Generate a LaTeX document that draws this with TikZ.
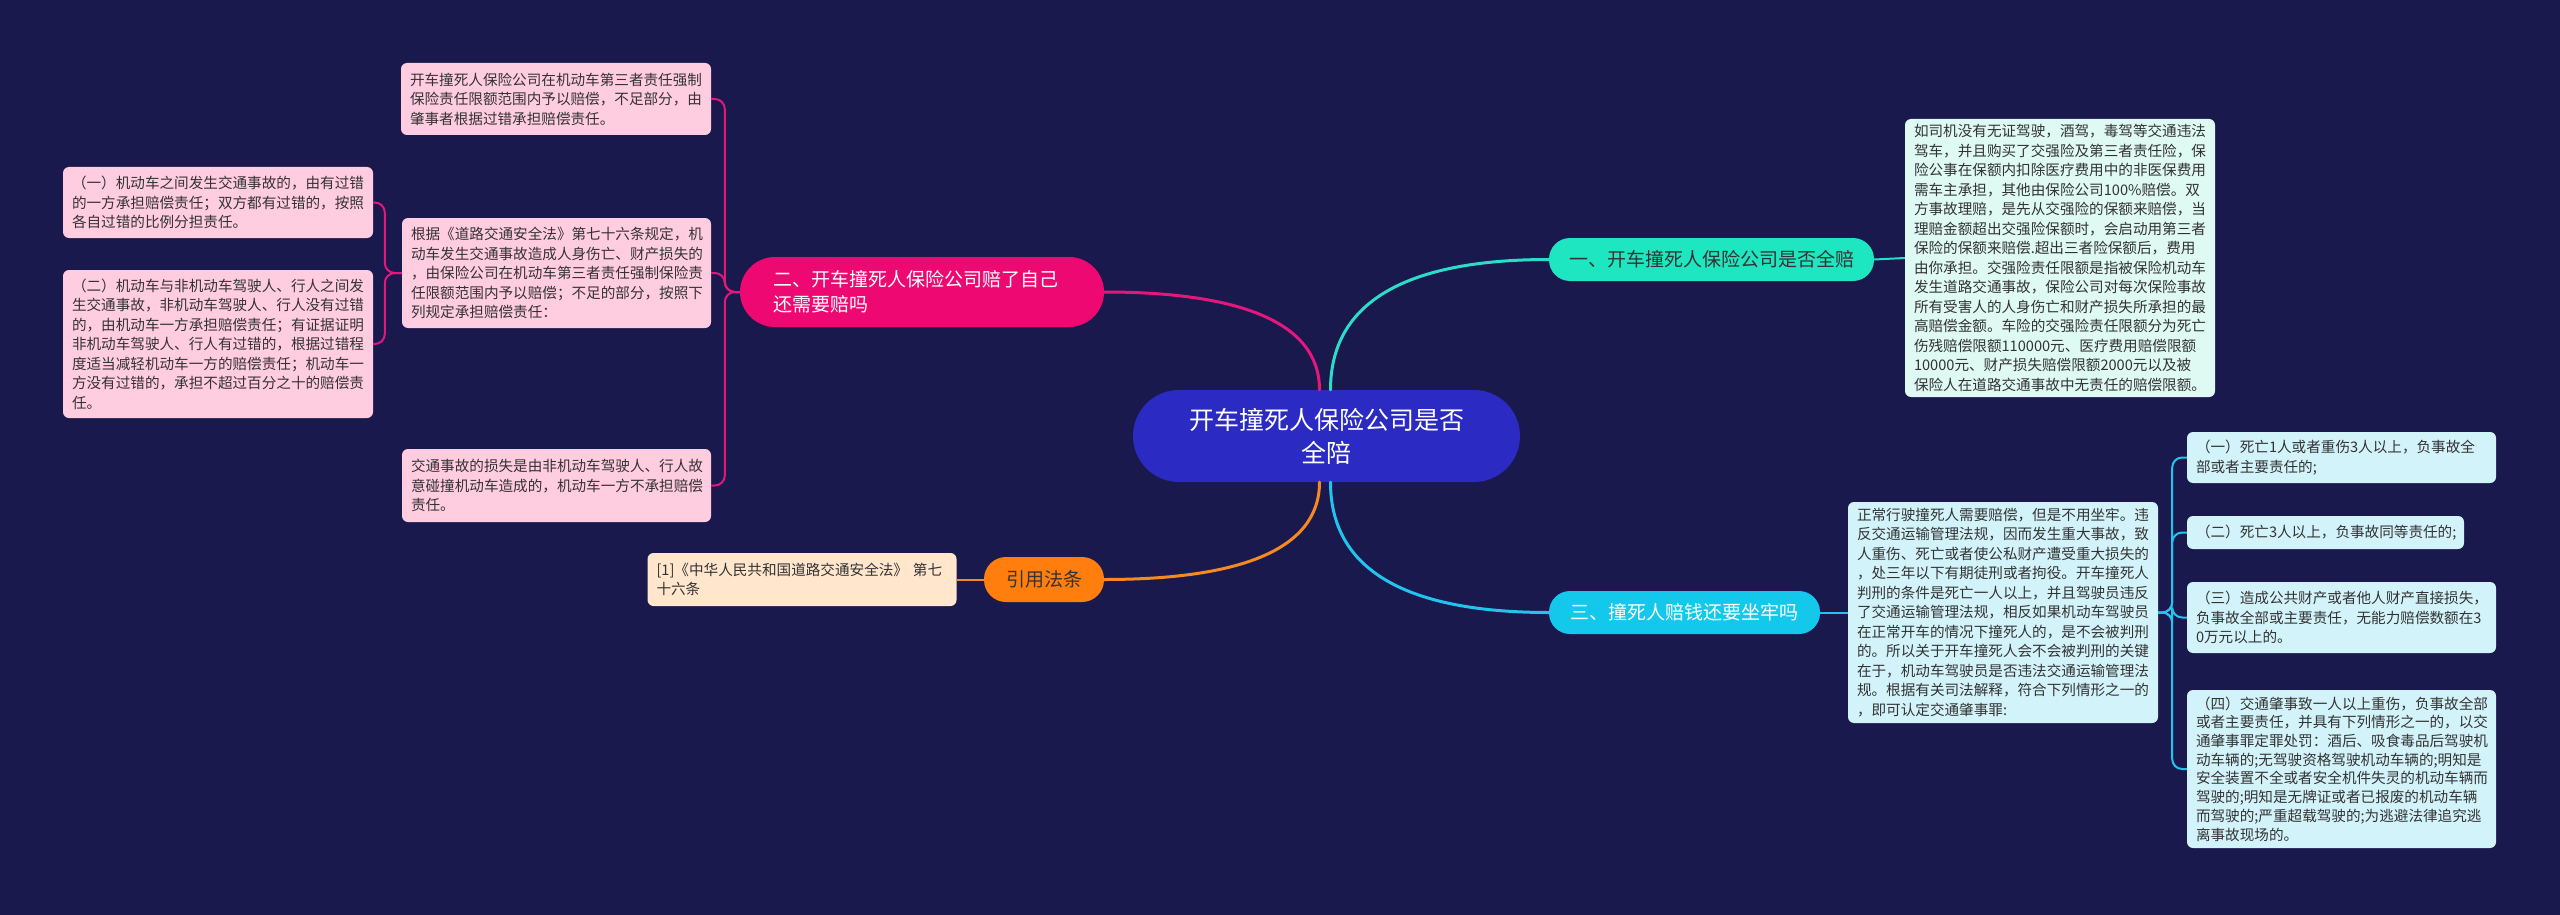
\documentclass[tikz,border=0pt]{standalone}
\usepackage{fontspec}
\setmainfont{Noto Sans CJK SC}
\usetikzlibrary{calc}
\definecolor{bg}{HTML}{19194D}
\definecolor{centerc}{HTML}{2B2BC4}
\definecolor{tealc}{HTML}{1EE6C0}
\definecolor{cyanc}{HTML}{14C8EC}
\definecolor{magc}{HTML}{EE0871}
\definecolor{orangec}{HTML}{FF7E0E}
\definecolor{pinkbox}{HTML}{FFCCE0}
\definecolor{mintbox}{HTML}{DFF9F3}
\definecolor{cyanbox}{HTML}{D3F3FA}
\definecolor{citebox}{HTML}{FFE6CC}
\definecolor{tealline}{HTML}{2CDCC8}
\definecolor{cyanline}{HTML}{22C4EE}
\definecolor{pinkline}{HTML}{E3177C}
\definecolor{orangeline}{HTML}{F58A22}
\definecolor{txt}{HTML}{333333}
\begin{document}
\begin{tikzpicture}[x=1pt,y=-1pt,
  box/.style={rounded corners=6pt, inner xsep=9pt, inner ysep=0pt, align=left,
    anchor=center, text=txt, font=\fontsize{14.6}{19.5}\selectfont},
  pill/.style={inner sep=0pt, anchor=center, align=center,
    font=\fontsize{19}{25}\selectfont},
  mainline/.style={line width=3pt, line cap=round},
  thinline/.style={line width=2pt, rounded corners=10pt}]
\fill[bg] (0,0) rectangle (2560,915);
\useasboundingbox (0,0) rectangle (2560,915);

% center
\node[fill=centerc, rounded corners=46pt, minimum width=387pt, minimum height=92pt,
  inner sep=0pt, align=center, text=white, font=\fontsize{25}{33}\selectfont]
  (C) at (1326.5,436) {开车撞死人保险公司是否\\全陪};

% branch 1
\node[pill, fill=tealc, rounded corners=21pt, minimum width=325pt, minimum height=43pt,
  text=txt] (b1) at (1711.5,259.5) {一、开车撞死人保险公司是否全赔};
\node[box, fill=mintbox, text width=292pt, minimum height=278pt] (b1box) at (2060,258)
 {如司机没有无证驾驶，酒驾，毒驾等交通违法\\驾车，并且购买了交强险及第三者责任险，保\\险公事在保额内扣除医疗费用中的非医保费用\\需车主承担，其他由保险公司100\%赔偿。双\\方事故理赔，是先从交强险的保额来赔偿，当\\理赔金额超出交强险保额时，会启动用第三者\\保险的保额来赔偿.超出三者险保额后，费用\\由你承担。交强险责任限额是指被保险机动车\\发生道路交通事故，保险公司对每次保险事故\\所有受害人的人身伤亡和财产损失所承担的最\\高赔偿金额。车险的交强险责任限额分为死亡\\伤残赔偿限额110000元、医疗费用赔偿限额\\10000元、财产损失赔偿限额2000元以及被\\保险人在道路交通事故中无责任的赔偿限额。};

% branch 3
\node[pill, fill=cyanc, rounded corners=21pt, minimum width=271pt, minimum height=43pt,
  text=white] (b3) at (1684.5,612.5) {三、撞死人赔钱还要坐牢吗};
\node[box, fill=cyanbox, text width=292pt, minimum height=221pt] (b3box) at (2003,612.5)
 {正常行驶撞死人需要赔偿，但是不用坐牢。违\\反交通运输管理法规，因而发生重大事故，致\\人重伤、死亡或者使公私财产遭受重大损失的\\，处三年以下有期徒刑或者拘役。开车撞死人\\判刑的条件是死亡一人以上，并且驾驶员违反\\了交通运输管理法规，相反如果机动车驾驶员\\在正常开车的情况下撞死人的，是不会被判刑\\的。所以关于开车撞死人会不会被判刑的关键\\在于，机动车驾驶员是否违法交通运输管理法\\规。根据有关司法解释，符合下列情形之一的\\，即可认定交通肇事罪:};
\node[box, fill=cyanbox, text width=291pt, minimum height=51pt] (s1) at (2341.5,457.5)
 {（一）死亡1人或者重伤3人以上，负事故全\\部或者主要责任的;};
\node[box, fill=cyanbox, text width=259pt, minimum height=33pt] (s2) at (2325.5,532.5)
 {（二）死亡3人以上，负事故同等责任的;};
\node[box, fill=cyanbox, text width=291pt, minimum height=71pt] (s3) at (2341.5,617.5)
 {（三）造成公共财产或者他人财产直接损失，\\负事故全部或主要责任，无能力赔偿数额在3\\0万元以上的。};
\node[box, fill=cyanbox, text width=291pt, minimum height=158pt,
  font=\fontsize{14.6}{18.7}\selectfont] (s4) at (2341.5,769)
 {（四）交通肇事致一人以上重伤，负事故全部\\或者主要责任，并具有下列情形之一的，以交\\通肇事罪定罪处罚：酒后、吸食毒品后驾驶机\\动车辆的;无驾驶资格驾驶机动车辆的;明知是\\安全装置不全或者安全机件失灵的机动车辆而\\驾驶的;明知是无牌证或者已报废的机动车辆\\而驾驶的;严重超载驾驶的;为逃避法律追究逃\\离事故现场的。};

% branch 2
\node[fill=magc, rounded corners=35pt, minimum width=364pt, minimum height=70pt,
  inner xsep=33pt, inner ysep=0pt, align=left, text width=298pt, text=white,
  font=\fontsize{19}{25}\selectfont] (b2) at (922,292)
 {二、开车撞死人保险公司赔了自己\\还需要赔吗};
\node[box, fill=pinkbox, text width=292pt, minimum height=72pt] (A) at (556,99)
 {开车撞死人保险公司在机动车第三者责任强制\\保险责任限额范围内予以赔偿，不足部分，由\\肇事者根据过错承担赔偿责任。};
\node[box, fill=pinkbox, text width=291pt, minimum height=110pt] (B) at (556.5,273)
 {根据《道路交通安全法》第七十六条规定，机\\动车发生交通事故造成人身伤亡、财产损失的\\，由保险公司在机动车第三者责任强制保险责\\任限额范围内予以赔偿；不足的部分，按照下\\列规定承担赔偿责任：};
\node[box, fill=pinkbox, text width=292pt, minimum height=71pt] (C1) at (218,202.5)
 {（一）机动车之间发生交通事故的，由有过错\\的一方承担赔偿责任；双方都有过错的，按照\\各自过错的比例分担责任。};
\node[box, fill=pinkbox, text width=292pt, minimum height=148pt] (C2) at (218,344)
 {（二）机动车与非机动车驾驶人、行人之间发\\生交通事故，非机动车驾驶人、行人没有过错\\的，由机动车一方承担赔偿责任；有证据证明\\非机动车驾驶人、行人有过错的，根据过错程\\度适当减轻机动车一方的赔偿责任；机动车一\\方没有过错的，承担不超过百分之十的赔偿责\\任。};
\node[box, fill=pinkbox, text width=291pt, minimum height=73pt] (D) at (556.5,485.5)
 {交通事故的损失是由非机动车驾驶人、行人故\\意碰撞机动车造成的，机动车一方不承担赔偿\\责任。};

% reference
\node[pill, fill=orangec, rounded corners=22pt, minimum width=120pt, minimum height=45pt,
  text=txt] (ref) at (1044,579.5) {引用法条};
\node[box, fill=citebox, text width=291pt, minimum height=53pt] (cite) at (802,579.5)
 {[1]《中华人民共和国道路交通安全法》 第七\\十六条};

% main connectors
\draw[mainline, tealline] ([xshift=4pt]C.north) .. controls +(0,-95) and +(-130,0) .. (b1.west);
\draw[mainline, pinkline] ([xshift=-7pt]C.north) .. controls +(0,-70) and +(130,0) .. (b2.east);
\draw[mainline, cyanline] ([xshift=4pt]C.south) .. controls +(0,95) and +(-130,0) .. (b3.west);
\draw[mainline, orangeline] ([xshift=-7pt]C.south) .. controls +(0,70) and +(130,0) .. (ref.east);

% sub connectors
\draw[line width=2pt, tealline] (b1.east) -- (b1box.west);
\draw[line width=2pt, cyanline] (b3.east) -- (b3box.west);
\draw[line width=2pt, orangeline] (ref.west) -- (cite.east);
\foreach \n in {A,B,D}
  \draw[thinline, pinkline] (b2.west) -- ++(-15,0) |- (\n.east);
\foreach \n in {C1,C2}
  \draw[thinline, pinkline] (B.west) -- ++(-17,0) |- (\n.east);
\foreach \n in {s1,s2,s3,s4}
  \draw[thinline, cyanline] (b3box.east) -- ++(14,0) |- (\n.west);
\end{tikzpicture}
\end{document}
